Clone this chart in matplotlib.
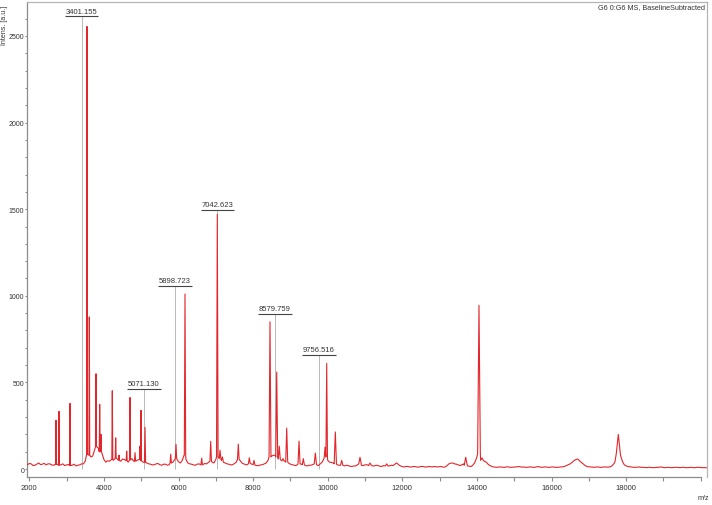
import numpy as np
import matplotlib
matplotlib.use('Agg')
import matplotlib.pyplot as plt
from matplotlib.ticker import MultipleLocator, FixedLocator
from matplotlib.transforms import offset_copy

plt.rcParams['font.family'] = ['Liberation Sans', 'DejaVu Sans']

# ---------------- data ----------------
baseline_start = 1950
baseline_step = 50
baseline_int = [
    25, 32, 30, 20, 22, 28, 35, 26, 28, 33,   # 1950-2400
    24, 30, 30, 24, 22, 27, 28, 22, 25, 30,   # 2450-2900
    20, 24, 26, 20, 22, 28, 18, 22, 24, 30,   # 2950-3400
    30, 45, 85, 80, 70, 75, 110, 130, 120, 100,  # 3450-3900
    90, 55, 40, 48, 45, 55, 50, 62, 60, 50,   # 3950-4400
    45, 58, 55, 48, 40, 52, 60, 45, 45, 52,   # 4450-4900
    55, 48, 40, 38, 35, 30, 28, 24, 25, 30,   # 4950-5400
    32, 25, 22, 28, 28, 22, 25, 35, 40, 55,   # 5450-5900
    60, 42, 35, 50, 80, 55, 35, 30, 28, 24,   # 5950-6400
    22, 28, 30, 24, 25, 32, 30, 38, 45, 40,   # 6450-6900
    35, 55, 70, 60, 50, 40, 35, 30, 28, 24,   # 6950-7400
    25, 32, 40, 55, 50, 35, 30, 25, 25, 32,   # 7450-7900
    30, 25, 22, 20, 20, 24, 25, 30, 35, 50,   # 7950-8400
    70, 75, 80, 78, 70, 58, 50, 48, 45, 40,   # 8450-8900
    35, 28, 25, 22, 20, 28, 30, 28, 25, 20,   # 8950-9400
    18, 22, 22, 26, 30, 25, 20, 30, 40, 60,   # 9450-9900
    70, 50, 40, 38, 35, 30, 25, 22, 22, 20,   # 9950-10400
    18, 22, 20, 16, 15, 18, 18, 25, 30, 22,   # 10450-10900
    20, 24, 25, 20, 22, 18, 18, 22, 20, 16,   # 10950-11400
    15, 20, 22, 18, 18, 22, 20, 28, 35, 25,   # 11450-11900
    18, 14, 12, 15, 15, 12, 12, 15, 14, 11,   # 11950-12400
    12, 15, 15, 12, 12, 14, 14, 12, 15, 13,   # 12450-12900
    12, 14, 14, 11, 12, 20, 30, 34, 35, 30,   # 12950-13400
    28, 24, 20, 25, 30, 22, 18, 16, 15, 25,   # 13450-13900
    40, 70, 90, 65, 50, 45, 40, 28, 20, 15,   # 13950-14400
    12, 11, 10, 12, 12, 10, 10, 13, 12, 10,   # 14450-14900
    10, 12, 12, 14, 14, 11, 12, 10, 10, 12,   # 14950-15400
    12, 10, 10, 13, 14, 11, 10, 12, 12, 10,   # 15450-15900
    10, 12, 12, 10, 10, 11, 12, 13, 15, 20,   # 15950-16400
    25, 30, 38, 48, 55, 58, 48, 38, 30, 20,   # 16450-16900
    15, 13, 12, 11, 10, 12, 12, 10, 10, 12,   # 16950-17400
    12, 11, 12, 15, 25, 40, 70, 90, 80, 45,   # 17450-17900
    25, 18, 15, 13, 12, 10, 10, 11, 12, 10,   # 17950-18400
    10, 9, 8, 10, 10, 8, 8, 9, 10, 11,        # 18450-18900
    12, 9, 8, 10, 10, 8, 8, 10, 10, 9,        # 18950-19400
    8, 10, 10, 8, 8, 9, 10, 8, 8, 10,         # 19450-19900
    10, 9, 8, 8, 8,                           # 19950-20150
]

peak_mz = [2716, 2796, 3091, 3547, 3609, 3788, 3887, 3922, 4225, 4316,
           4405, 4611, 4700, 4834, 4968, 4995, 5102, 5791, 5933, 6174,
           6622, 6863, 7040, 7113, 7175, 7603, 7898, 8024, 8453, 8633,
           8702, 8802, 8901, 9231, 9346, 9668, 9928, 9973, 10204, 10375,
           10866, 11134, 11582, 13700, 14056, 14136, 17791]
peak_int = [282, 333, 379, 2555, 878, 550, 374, 200, 452, 180,
            80, 103, 413, 95, 132, 339, 241, 86, 142, 1010,
            63, 160, 1470, 109, 70, 144, 65, 50, 850, 560,
            132, 60, 236, 161, 60, 92, 126, 610, 214, 50,
            68, 35, 30, 68, 945, 65, 200]

label_text = ['3401.155', '5071.130', '5898.723', '7042.623', '8579.759', '9756.516']
label_mz = [3401.155, 5071.130, 5898.723, 7042.623, 8579.759, 9756.516]
label_height = [2613, 464, 1059, 1496, 897, 659]

x_ticks = [2000, 4000, 6000, 8000, 10000, 12000, 14000, 16000, 18000]
y_ticks = [0, 500, 1000, 1500, 2000, 2500]
title_text = 'G6 0:G6 MS, BaselineSubtracted'
x_label = 'm/z'
y_label = 'Intens. [a.u.]'

# ---------------- build trace vertices ----------------
base_int = np.array(baseline_int, dtype=float)
base_mz = baseline_start + baseline_step * np.arange(len(base_int))
pm = np.array(peak_mz, dtype=float)
pi = np.array(peak_int, dtype=float)
gaps = np.diff(pm)
left_gap = np.r_[np.inf, gaps]
right_gap = np.r_[gaps, np.inf]
hw = np.minimum(0.003 * pm, 0.45 * np.minimum(left_gap, right_gap))

inside = np.zeros(len(base_mz), bool)
for c, w in zip(pm, hw):
    inside |= (base_mz >= c - w) & (base_mz <= c + w)
verts = list(zip(base_mz[~inside], base_int[~inside]))
for c, h, w in zip(pm, pi, hw):
    foot = base_int[np.argmin(np.abs(base_mz - c))]
    verts += [(c - w, foot), (c, h), (c + w, foot)]
verts.sort()
vx = np.array([v[0] for v in verts])
vy = np.array([v[1] for v in verts])

# ---------------- figure ----------------
fig = plt.figure(figsize=(7.12, 5.06), dpi=100)
ax = fig.add_axes([27 / 712, 1 - 477.5 / 506, (707 - 27) / 712, (477.5 - 2.5) / 506])

spine_col = '#8c8c8c'
for s in ax.spines.values():
    s.set_color(spine_col)
    s.set_linewidth(0.9)
ax.spines['right'].set_color('#b5b5b5')
ax.spines['top'].set_color('#b5b5b5')

ax.set_xlim(1938, 20169)
ax.set_ylim(-43, 2699)
ax.spines['bottom'].set_bounds(1938, 20000)

ax.plot(vx, vy, color='#e3262b', lw=0.8, zorder=3)

ax.xaxis.set_major_locator(FixedLocator(x_ticks))
ax.xaxis.set_minor_locator(FixedLocator(list(range(3000, 20001, 2000)) + [20000]))
ax.yaxis.set_major_locator(FixedLocator(y_ticks))
ax.yaxis.set_minor_locator(MultipleLocator(100))
ax.set_xticklabels([str(t) for t in x_ticks])
ax.tick_params(axis='both', which='both', direction='out', color=spine_col,
               labelcolor='#333333', width=0.8)
ax.tick_params(axis='x', which='both', length=3, pad=2.5, labelsize=5.5)
ax.tick_params(axis='y', which='both', length=1.8, pad=0.2, labelsize=5.0)
ax.tick_params(top=False, right=False)

fig.text(4.2 / 712, 1 - 25 / 506, y_label, rotation=90, ha='center', va='center',
         fontsize=5.0, color='#333333')
fig.text(705.5 / 712, 1 - 7.5 / 506, title_text, ha='right', va='center',
         fontsize=5.2, color='#333333')
fig.text(703 / 712, 1 - 499 / 506, x_label, ha='center', va='center',
         fontsize=5.2, color='#333333')

# annotations
texts = []
for t, m, h in zip(label_text, label_mz, label_height):
    ax.vlines(m, 0, h, color='#b8b8b8', lw=0.7, zorder=1)
    tr = offset_copy(ax.transData, fig=fig, x=0, y=1.2, units='points')
    tx = ax.text(m, h, t, transform=tr, ha='center', va='bottom', fontsize=5.5,
                 color='#333333', zorder=4)
    texts.append((tx, m, h))

fig.canvas.draw()
inv = ax.transData.inverted()
for tx, m, h in texts:
    bb = tx.get_window_extent()
    x0 = inv.transform((bb.x0 - 1, 0))[0]
    x1 = inv.transform((bb.x1 + 1, 0))[0]
    ax.plot([x0, x1], [h, h], color='#444444', lw=0.8, zorder=4,
            solid_capstyle='butt')

fig.savefig('out.png', dpi=100)
